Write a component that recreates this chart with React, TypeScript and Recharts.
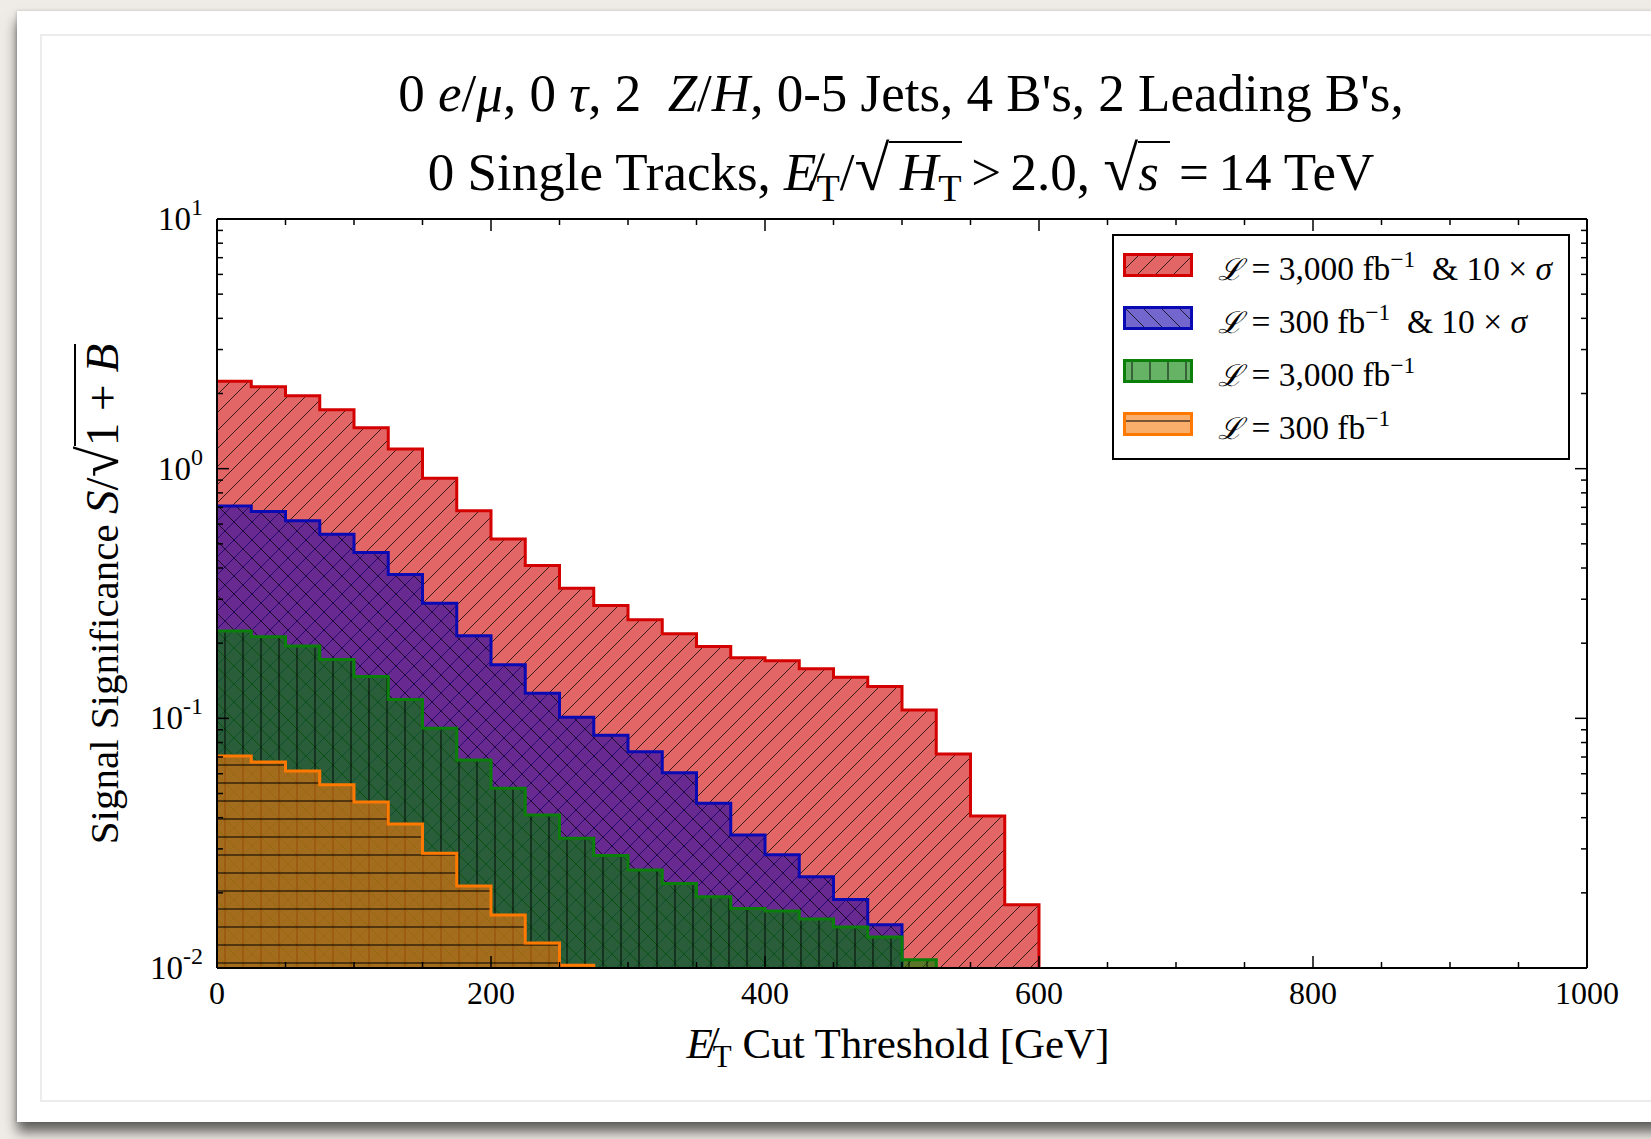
import React from 'react';
import { ComposedChart, Area, XAxis, YAxis, Legend } from 'recharts';

// bin width of the cut scan [GeV]
const BIN = 25;

// S/sqrt(1+B) per 25 GeV MET cut bin
const sig3000x10 = [
  2.24, 2.13, 1.96, 1.72, 1.46, 1.2, 0.915, 0.679, 0.523, 0.409, 0.332, 0.283,
  0.248, 0.218, 0.194, 0.175, 0.17, 0.158, 0.146, 0.134, 0.108, 0.072, 0.0406, 0.0179,
];
const sig300x10 = [
  0.708, 0.673, 0.619, 0.546, 0.462, 0.377, 0.289, 0.214, 0.164, 0.126, 0.101, 0.0855,
  0.0735, 0.0605, 0.0457, 0.0341, 0.0284, 0.0232, 0.0188, 0.0149,
];
const sig3000 = [
  0.224, 0.212, 0.195, 0.172, 0.147, 0.119, 0.0912, 0.0681, 0.0525, 0.041, 0.0331,
  0.0282, 0.0247, 0.0218, 0.0193, 0.0173, 0.0169, 0.0157, 0.0146, 0.0133, 0.0108,
];
const sig300 = [
  0.0706, 0.0668, 0.0615, 0.0542, 0.0462, 0.0377, 0.0288, 0.0213, 0.0163, 0.0126, 0.01026,
];

const xTicks = [0, 50, 100, 150, 200, 250, 300, 350, 400, 450, 500, 550, 600, 650, 700, 750, 800, 850, 900, 950, 1000];
const yTicks = [
  0.01, 0.02, 0.03, 0.04, 0.05, 0.06, 0.07, 0.08, 0.09,
  0.1, 0.2, 0.3, 0.4, 0.5, 0.6, 0.7, 0.8, 0.9,
  1, 2, 3, 4, 5, 6, 7, 8, 9, 10,
];
const yDomain = [0.01, 10];

const legendItems = [
  { key: 'red', lumi: '3,000', boost: true },
  { key: 'blue', lumi: '300', boost: true },
  { key: 'green', lumi: '3,000', boost: false },
  { key: 'orange', lumi: '300', boost: false },
];

const FONT = "'Liberation Serif', 'Times New Roman', 'DejaVu Serif', serif";

const styles: Record<string, { stroke: string; fill: string }> = {
  red: { stroke: '#d40000', fill: 'url(#hatch-red)' },
  blue: { stroke: '#0a0ab4', fill: 'url(#hatch-blue)' },
  green: { stroke: '#0a800a', fill: 'url(#hatch-green)' },
  orange: { stroke: '#ff7800', fill: 'url(#hatch-orange)' },
};

// step histogram rows: each series closes its last step and drops to the axis floor
const series: Record<string, number[]> = {
  red: sig3000x10,
  blue: sig300x10,
  green: sig3000,
  orange: sig300,
};

function buildRows() {
  const nBins = Math.max(...Object.values(series).map((s) => s.length));
  const rows: Record<string, number | null>[] = [];
  for (let i = 0; i <= nBins; i++) {
    const row: Record<string, number | null> = { x: i * BIN };
    const ending: string[] = [];
    for (const [k, vals] of Object.entries(series)) {
      if (i < vals.length) row[k] = vals[i];
      else if (i === vals.length) {
        row[k] = vals[vals.length - 1];
        ending.push(k);
      } else row[k] = null;
    }
    rows.push(row);
    if (ending.length) {
      const drop = { ...row };
      ending.forEach((k) => (drop[k] = yDomain[0]));
      rows.push(drop);
    }
  }
  return rows;
}

const rows = buildRows();

const isDecade = (v: number) => Math.abs(Math.log10(v) - Math.round(Math.log10(v))) < 1e-6;

const PatternDefs = () => (
  <svg width={0} height={0} style={{ position: 'absolute' }}>
    <defs>
      <pattern id="hatch-red" patternUnits="userSpaceOnUse" width={18} height={18}>
        <rect width={18} height={18} fill="#d00000" fillOpacity={0.6} />
        <path d="M0,18 L18,0 M-9,9 L9,-9 M9,27 L27,9" stroke="#000" strokeOpacity={0.75} strokeWidth={1} />
      </pattern>
      <pattern id="hatch-blue" patternUnits="userSpaceOnUse" width={18} height={18}>
        <rect width={18} height={18} fill="#1600ac" fillOpacity={0.6} />
        <path d="M0,0 L18,18 M-9,9 L9,27 M9,-9 L27,9" stroke="#000" strokeOpacity={0.75} strokeWidth={1} />
      </pattern>
      <pattern id="hatch-green" patternUnits="userSpaceOnUse" width={18} height={18}>
        <rect width={18} height={18} fill="#008000" fillOpacity={0.6} />
        <path d="M9,0 L9,18" stroke="#000" strokeOpacity={0.75} strokeWidth={1.2} />
      </pattern>
      <pattern id="hatch-orange" patternUnits="userSpaceOnUse" width={18} height={18}>
        <rect width={18} height={18} fill="#f5780a" fillOpacity={0.6} />
        <path d="M0,9 L18,9" stroke="#000" strokeOpacity={0.85} strokeWidth={1.2} />
      </pattern>
    </defs>
  </svg>
);

const BottomTick = (props: any) => {
  const { x, y, payload } = props;
  const major = payload.value % 200 === 0;
  return (
    <g>
      <line x1={x} x2={x} y1={y} y2={y - (major ? 12 : 6)} stroke="#000" strokeWidth={1.5} />
      {major && (
        <text x={x} y={y + 36} textAnchor="middle" fontSize={32} fontFamily={FONT} fill="#000">
          {payload.value}
        </text>
      )}
    </g>
  );
};

const TopTick = (props: any) => {
  const { x, y, payload } = props;
  const major = payload.value % 200 === 0;
  return <line x1={x} x2={x} y1={y} y2={y + (major ? 12 : 6)} stroke="#000" strokeWidth={1.5} />;
};

const LeftTick = (props: any) => {
  const { x, y, payload } = props;
  const major = isDecade(payload.value);
  const exp = Math.round(Math.log10(payload.value));
  return (
    <g>
      <line x1={x} x2={x + (major ? 12 : 6)} y1={y} y2={y} stroke="#000" strokeWidth={1.5} />
      {major && (
        <text x={x - 14} y={y + 11} textAnchor="end" fontSize={33} fontFamily={FONT} fill="#000">
          10
          <tspan dy={-15} fontSize={24}>
            {exp}
          </tspan>
        </text>
      )}
    </g>
  );
};

const RightTick = (props: any) => {
  const { x, y, payload } = props;
  const major = isDecade(payload.value);
  return <line x1={x} x2={x - (major ? 12 : 6)} y1={y} y2={y} stroke="#000" strokeWidth={1.5} />;
};

// radical bar drawn as the top border of the inline span so it stays continuous
const over: React.CSSProperties = { borderTop: '2px solid #000' };
const rad: React.CSSProperties = { fontSize: '1.2em', lineHeight: 0 };
const sub: React.CSSProperties = { fontSize: '0.72em', verticalAlign: '-0.28em', fontStyle: 'normal' };
const sup: React.CSSProperties = { fontSize: '0.7em', verticalAlign: '0.55em' };
const op: React.CSSProperties = { margin: '0 0.18em' };

const renderLegend = () => (
  <div
    style={{
      width: 458,
      height: 226,
      boxSizing: 'border-box',
      border: '2px solid #000',
      background: '#fff',
      padding: '2px 0 0 9px',
      fontFamily: FONT,
      fontSize: 33.5,
      color: '#000',
    }}
  >
    {legendItems.map((it) => (
      <div key={it.key} style={{ display: 'flex', alignItems: 'center', height: 53 }}>
        <svg width={70} height={24} style={{ flex: 'none' }}>
          <rect x={1.5} y={1.5} width={67} height={21} fill={styles[it.key].fill} stroke={styles[it.key].stroke} strokeWidth={3} />
        </svg>
        <span style={{ marginLeft: 25, whiteSpace: 'nowrap', lineHeight: '40px' }}>
          <span style={{ fontFamily: "'DejaVu Serif', serif", fontStyle: 'italic', fontSize: 30 }}>ℒ</span> = {it.lumi} fb
          <span style={sup}>−1</span>
          {it.boost && (
            <>
              {'\u00a0\u00a0'}&amp; 10 × <i>σ</i>
            </>
          )}
        </span>
      </div>
    ))}
  </div>
);

export default function App() {
  return (
    <div
      style={{
        position: 'absolute',
        left: 0,
        top: 0,
        width: 1651,
        height: 1139,
        overflow: 'hidden',
        background: '#efece7',
        fontFamily: FONT,
        color: '#000',
      }}
    >
      <PatternDefs />
      <div
        style={{
          position: 'absolute',
          left: 17,
          top: 11,
          width: 1660,
          height: 1111,
          background: '#fff',
          boxShadow: '0 10px 12px rgba(0,0,0,0.6), -1px 0 3px rgba(0,0,0,0.15)',
        }}
      />
      <div
        style={{
          position: 'absolute',
          left: 40,
          top: 34,
          width: 1640,
          height: 1068,
          boxSizing: 'border-box',
          border: '2px solid #ececec',
          background: '#fff',
        }}
      />
      <div style={{ position: 'absolute', left: 0, top: 0 }}>
        <ComposedChart width={1651} height={1139} data={rows} margin={{ top: 218, right: 63, bottom: 111, left: 117 }}>
          <XAxis
            xAxisId="b"
            dataKey="x"
            type="number"
            domain={[0, 1000]}
            ticks={xTicks}
            interval={0}
            allowDataOverflow
            height={60}
            tickSize={0}
            tickMargin={0}
            tickLine={false}
            axisLine={{ stroke: '#000', strokeWidth: 2 }}
            tick={BottomTick}
          />
          <XAxis
            xAxisId="t"
            orientation="top"
            dataKey="x"
            type="number"
            domain={[0, 1000]}
            ticks={xTicks}
            interval={0}
            allowDataOverflow
            height={1}
            tickSize={0}
            tickMargin={0}
            tickLine={false}
            axisLine={{ stroke: '#000', strokeWidth: 2 }}
            tick={TopTick}
          />
          <YAxis
            yAxisId="l"
            type="number"
            scale="log"
            domain={yDomain}
            ticks={yTicks}
            interval={0}
            allowDataOverflow
            width={100}
            tickSize={0}
            tickMargin={0}
            tickLine={false}
            axisLine={{ stroke: '#000', strokeWidth: 2 }}
            tick={LeftTick}
          />
          <YAxis
            yAxisId="r"
            orientation="right"
            type="number"
            scale="log"
            domain={yDomain}
            ticks={yTicks}
            interval={0}
            allowDataOverflow
            width={1}
            tickSize={0}
            tickMargin={0}
            tickLine={false}
            axisLine={{ stroke: '#000', strokeWidth: 2 }}
            tick={RightTick}
          />
          {legendItems.map((it) => (
            <Area
              key={it.key}
              xAxisId="b"
              yAxisId="l"
              type="stepAfter"
              dataKey={it.key}
              stroke={styles[it.key].stroke}
              strokeWidth={3}
              fill={styles[it.key].fill}
              fillOpacity={1}
              baseValue={yDomain[0]}
              connectNulls={false}
              dot={false}
              activeDot={false}
              isAnimationActive={false}
            />
          ))}
          <Legend
            layout="vertical"
            align="center"
            verticalAlign="middle"
            content={renderLegend}
            wrapperStyle={{ left: 1112, top: 234, width: 458, height: 226 }}
          />
        </ComposedChart>
      </div>

      {/* title */}
      <div style={{ position: 'absolute', left: 201, width: 1400, top: 58, height: 70, lineHeight: '70px', textAlign: 'center', fontSize: 53, whiteSpace: 'nowrap' }}>
        0 <i>e</i>/<i>μ</i>, 0 <i>τ</i>, 2 &nbsp;<i>Z</i>/<i>H</i>, 0-5 Jets, 4 B's, 2 Leading B's,
      </div>
      <div style={{ position: 'absolute', left: 201, width: 1400, top: 137, height: 70, lineHeight: '70px', textAlign: 'center', fontSize: 53, whiteSpace: 'nowrap' }}>
        0 Single Tracks, <i>E&#x0338;</i>
        <span style={sub}>T</span>/<span style={rad}>√</span>
        <span style={over}>
          {'\u2009'}
          <i>H</i>
          <span style={sub}>T</span>
        </span>
        <span style={op}>&gt;</span>2.0, <span style={rad}>√</span>
        <span style={over}>
          <i>s</i>
          {'\u2009'}
        </span>
        <span style={op}>=</span>14 TeV
      </div>

      {/* y axis label */}
      <div
        style={{
          position: 'absolute',
          left: 102 - 400,
          top: 594 - 30,
          width: 800,
          height: 60,
          lineHeight: '60px',
          textAlign: 'center',
          fontSize: 41,
          whiteSpace: 'nowrap',
          transform: 'rotate(-90deg)',
        }}
      >
        Signal Significance{' '}
        <span style={{ fontSize: '1.15em' }}>
          <i>S</i>/<span style={rad}>√</span>
          <span style={over}>
            1 + <i>B</i>
          </span>
        </span>
      </div>

      {/* x axis label */}
      <div style={{ position: 'absolute', left: 398, width: 1000, top: 1014, height: 60, lineHeight: '60px', textAlign: 'center', fontSize: 43, whiteSpace: 'nowrap' }}>
        <i>E&#x0338;</i>
        <span style={sub}>T</span> Cut Threshold [GeV]
      </div>
    </div>
  );
}
